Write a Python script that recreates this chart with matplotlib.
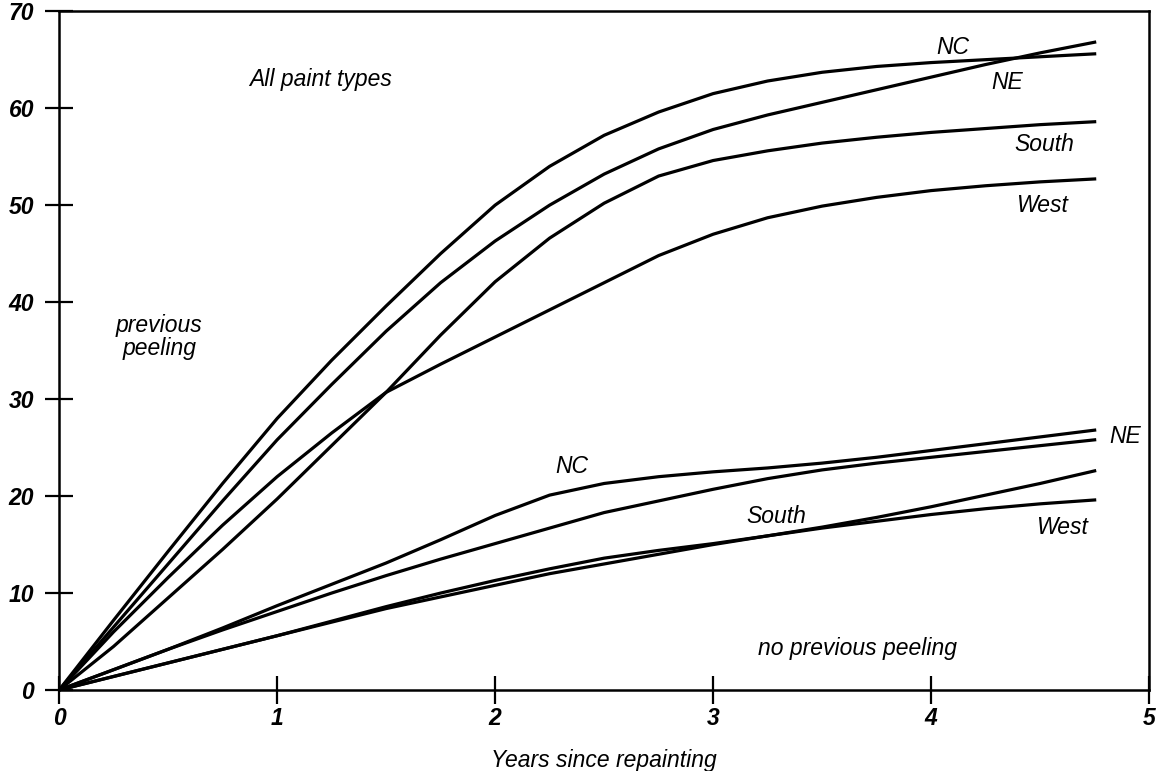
import matplotlib
matplotlib.use("Agg")
from matplotlib import pyplot as plt

years = [0, 0.25, 0.5, 0.75, 1, 1.25, 1.5, 1.75, 2, 2.25, 2.5, 2.75,
         3, 3.25, 3.5, 3.75, 4, 4.25, 4.5, 4.75]

# previous peeling
prev_nc = [0, 7.2, 14.3, 21.3, 28, 34, 39.6, 45, 50, 54, 57.2, 59.6,
           61.5, 62.8, 63.7, 64.3, 64.7, 65.0, 65.3, 65.6]
prev_ne = [0, 6.5, 13, 19.5, 25.8, 31.5, 37, 42, 46.3, 50, 53.2, 55.8,
           57.8, 59.3, 60.6, 61.9, 63.2, 64.5, 65.7, 66.8]
prev_south = [0, 4.5, 9.5, 14.5, 19.7, 25.2, 30.7, 36.6, 42.1, 46.6, 50.2,
              53.0, 54.6, 55.6, 56.4, 57, 57.5, 57.9, 58.3, 58.6]
prev_west = [0, 6, 11.6, 17, 22, 26.5, 30.7, 33.6, 36.4, 39.2, 42.0, 44.8,
             47.0, 48.7, 49.9, 50.8, 51.5, 52.0, 52.4, 52.7]

# no previous peeling
none_nc = [0, 2.1, 4.2, 6.4, 8.7, 10.9, 13.1, 15.5, 18.0, 20.1, 21.3, 22.0,
           22.5, 22.9, 23.4, 24, 24.7, 25.4, 26.1, 26.8]
none_ne = [0, 2.1, 4.2, 6.2, 8.1, 10.0, 11.8, 13.5, 15.1, 16.7, 18.3, 19.5,
           20.7, 21.8, 22.7, 23.4, 24, 24.6, 25.2, 25.8]
none_south = [0, 1.4, 2.8, 4.2, 5.6, 7.1, 8.6, 10.0, 11.3, 12.5, 13.6, 14.4,
              15.1, 15.9, 16.8, 17.8, 18.9, 20.1, 21.3, 22.6]
none_west = [0, 1.4, 2.8, 4.2, 5.6, 7, 8.4, 9.6, 10.8, 12, 13, 14,
             15, 15.9, 16.7, 17.4, 18.1, 18.7, 19.2, 19.6]

font = "Liberation Sans"
fig = plt.figure(figsize=(11.59, 7.71), dpi=100)
ax = fig.add_axes([0.051, 0.105, 0.9405, 0.8805])

for s in [prev_nc, prev_ne, prev_south, prev_west,
          none_nc, none_ne, none_south, none_west]:
    ax.plot(years, s, color="black", lw=2.3, solid_joinstyle="round")

ax.set_xlim(0, 5)
ax.set_ylim(0, 70)
ax.set_xticks([0, 1, 2, 3, 4, 5])
ax.set_yticks([0, 10, 20, 30, 40, 50, 60, 70])
ax.tick_params(direction="inout", length=20, width=1.6)
ax.tick_params(axis="y", pad=8)
ax.tick_params(axis="x", pad=2)
for lab in ax.get_xticklabels() + ax.get_yticklabels():
    lab.set_family(font)
    lab.set_style("italic")
    lab.set_weight("bold")
    lab.set_fontsize(16.5)
for sp in ax.spines.values():
    sp.set_linewidth(1.8)

ax.set_xlabel("Years since repainting", family=font, style="italic",
              fontsize=16.5, labelpad=14)

txt = dict(family=font, style="italic", fontsize=16.5, ha="center", va="center")
ax.text(1.2, 63, "All paint types", **txt)
ax.text(0.46, 36.4, "previous\npeeling", linespacing=1.05, **txt)
ax.text(3.66, 4.3, "no previous peeling", **txt)

ax.text(4.10, 66.3, "NC", **txt)
ax.text(4.35, 62.6, "NE", **txt)
ax.text(4.52, 56.3, "South", **txt)
ax.text(4.51, 50.0, "West", **txt)
ax.text(2.35, 23.1, "NC", **txt)
ax.text(4.89, 26.1, "NE", **txt)
ax.text(3.29, 17.9, "South", **txt)
ax.text(4.60, 16.8, "West", **txt)

fig.savefig("out.png", dpi=100)
